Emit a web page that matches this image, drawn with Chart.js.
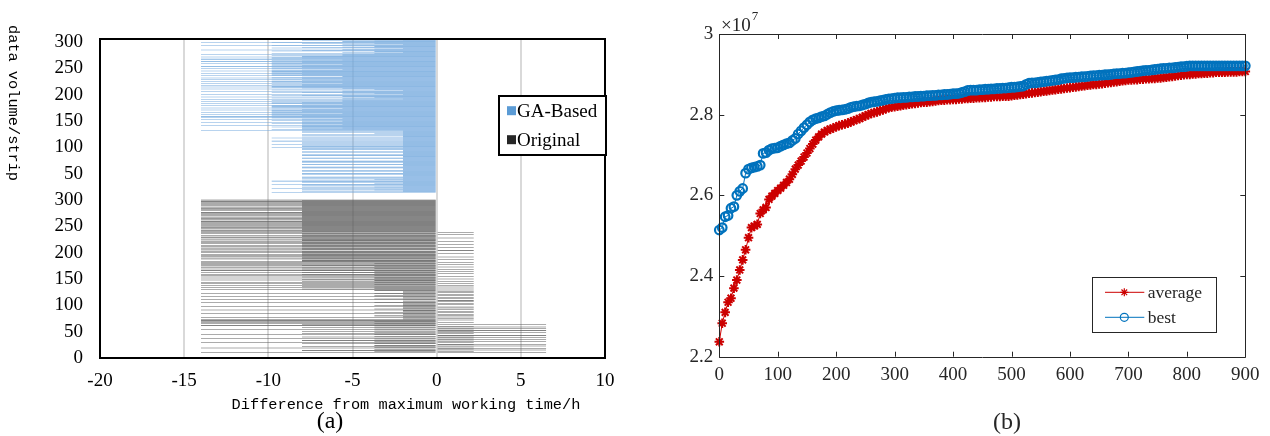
<!DOCTYPE html>
<html>
<head>
<meta charset="utf-8">
<script src="https://cdn.jsdelivr.net/npm/chart.js@4.4.1/dist/chart.umd.min.js"></script>
<style>
  html, body { margin: 0; padding: 0; background: #fff; }
  #wrap { position: relative; width: 1270px; height: 436px; overflow: hidden; }
  #chartA { position: absolute; left: 0; top: 0; }
  #chartB { position: absolute; left: 640px; top: 0; }
</style>
</head>
<body>
<div id="wrap">
  <canvas id="chartA" width="640" height="436"></canvas>
  <canvas id="chartB" width="630" height="436"></canvas>
</div>
<script>
/* =========================
   (a) strip differences, (b) GA convergence
========================= */

/* ── (a) data: one value per strip, bottom strip first ── */
var aXTicks  = [-20, -15, -10, -5, 0, 5, 10];
var aYTicks  = [0, 50, 100, 150, 200, 250, 300, 350, 400, 450, 500, 550, 600];
var aYLabels = ['0', '50', '100', '150', '200', '250', '300', '50', '100', '150', '200', '250', '300'];
var gaFirstStrip   = 315;
var origFirstStrip = 10;

var gaDiff = [
  -9.8,-2,-8,-2,-3.7,-8,-2,-9.8,-2,-8,-3.7,-2,-8,-2,-9.8,-8,-2,-3.7,-8,-2,-8,-9.8,-2,-8,-3.7,-2,-8,-2,
  -8,-8,-2,-2,-2,-2,-8,-8,-8,-2,-2,-2,-8,-8,-2,-2,-2,-2,-8,-8,-8,-2,-2,-2,-8,-8,-2,-2,-2,-8,-8,-8,-2,-2,-2,-2,-8,-8,-2,-2,-2,-8,-8,-8,-2,-2,-2,-2,-8,-8,-2,-2,-2,-8,-8,
  -8,-2,-9.8,-2,-8,-2,-8,-2,-9.8,-2,-8,-2,-8,-2,-9.8,-2,-8,-2,-8,-2,-9.8,-2,-8,-2,-8,-2,-8,-2,-3.7,-2,-8,-2,-8,-2,
  -14,-8,-9.8,-8,-8,-5.6,-8,-9.8,-8,-14,-8,-5.6,-8,-9.8,-8,-14,-8,-8,-5.6,-9.8,-8,-14,-8,-5.6,-9.8,-14,
  -9.8,-14,-9.8,-8,-9.8,-14,-9.8,-5.6,-9.8,-14,-8,-9.8,-9.8,-14,-8,-9.8,-5.6,-14,-9.8,-8,-9.8,-14,-9.8,-5.6,-8,-14,-9.8,-8,-9.8,-14,-5.6,-9.8,
  -5.6,-14,-2,-5.6,-9.8,-3.7,-14,-5.6,-8,-9.8,-2,-14,-5.6,-3.7,-9.8,-8,-14,-5.6,-2,-9.8,-3.7,-14,-5.6,-8,-9.8,
  -14,-9.8,-8,-14,-9.8,-8,-5.6,-14,-9.8,-8,-14,-9.8,-8,-5.6,-14,-9.8,-8,-14,-9.8,-8,-5.6,-14,-9.8,-8,-9.8,
  -9.8,-14,-9.8,-8,-9.8,-14,-9.8,-8,-5.6,-9.8,-14,-9.8,-8,-9.8,-14,-9.8,-8,-5.6,-9.8,-14,-9.8,-8,-9.8,-14,-8,-9.8,-5.6,-14,-14,-9.8,-8,-9.8,-14,-8,-5.6,-9.8,
  -5.6,-14,-3.7,-9.8,-2,-5.6,-3.7,-9.8,-8,-14,-5.6,-3.7,-2,-9.8,-8,-5.6,-3.7,-14,-9.8,-2,-5.6,-8,-3.7,-9.8,-14,-5.6,-3.7,-8,-2,-9.8
];

var origDiff = [
  -14,6.5,-3.7,2.2,-8,6.5,-3.7,2.2,6.5,-14,-3.7,2.2,-8,6.5,-3.7,2.2,6.5,-8,-3.7,-14,
  2.2,6.5,-3.7,-8,2.2,6.5,-3.7,-14,2.2,6.5,-8,-3.7,2.2,6.5,-3.7,-14,-8,2.2,6.5,-3.7,
  2.2,-8,6.5,-3.7,-14,2.2,6.5,-3.7,-8,6.5,2.2,-3.7,-14,6.5,-8,-3.7,
  -14,-14,2.2,-14,-3.7,-14,2.2,-14,-2,
  2.2,-2,-14,2.2,-2,-3.7,2.2,-2,2.2,-14,-2,-3.7,2.2,-2,2.2,-2,-14,2.2,-3.7,-2,
  2.2,-2,2.2,-14,-2,-3.7,2.2,-2,2.2,-2,-14,-3.7,2.2,-2,2.2,-2,-14,-3.7,2.2,-2,
  2.2,-2,-14,-3.7,2.2,-2,2.2,-14,-3.7,-2,2.2,-2,2.2,
  -3.7,2.2,-14,-8,-3.7,2.2,-14,-3.7,-8,2.2,-14,-3.7,-8,2.2,-14,-3.7,-14,-8,2.2,-3.7,
  -14,-8,2.2,-3.7,-14,-3.7,-8,2.2,-14,-3.7,-8,-14,2.2,-3.7,-14,-8,2.2,-3.7,-14,-8,
  2.2,-14,-3.7,-8,-14,2.2,-3.7,-14,-8,2.2,-14,-3.7,-14,
  2.2,-14,-8,-14,-8,-8,2.2,-14,-8,-14,-8,2.2,-14,-8,-14,-8,-14,2.2,-8,-14,
  -8,-14,-8,2.2,-14,-8,-14,-8,-14,2.2,-8,-14,-8,-14,-8,2.2,-14,-8,-14,-8,
  -14,2.2,-8,-14,-8,-14,-8,2.2,-14,-14,-8,-8,-14,2.2,-8,-14,-8,-14,2.2,
  -14,-8,-14,-14,-8,-8,-14,-8,-14,-14,-8,-14,-8,-8,-14,-14,-8,-14,-8,-14,
  -14,-8,-8,-14,-8,-14,-14,-8,-14,-8,-8,-14,-14,-8,-14,-8,-14,-14,-8,-8,
  -14,-8,-14,-8,-14,-14,-8,-14,-8,-8,-14,-14,-8,-14,-8,-14,-8,-14,-14,-8,-14
];

/* ── (b) data: fitness per generation (x1e7) ── */
var gens = [
  0,5,10,15,20,25,30,35,40,45,50,55,60,65,70,75,80,85,90,95,
  100,105,110,115,120,125,130,135,140,145,150,155,160,165,170,175,180,185,190,195,
  200,205,210,215,220,225,230,235,240,245,250,255,260,265,270,275,280,285,290,295,
  300,305,310,315,320,325,330,335,340,345,350,355,360,365,370,375,380,385,390,395,
  400,405,410,415,420,425,430,435,440,445,450,455,460,465,470,475,480,485,490,495,
  500,505,510,515,520,525,530,535,540,545,550,555,560,565,570,575,580,585,590,595,
  600,605,610,615,620,625,630,635,640,645,650,655,660,665,670,675,680,685,690,695,
  700,705,710,715,720,725,730,735,740,745,750,755,760,765,770,775,780,785,790,795,
  800,805,810,815,820,825,830,835,840,845,850,855,860,865,870,875,880,885,890,895,
  900
];
var avgFit = [
  2.237,2.283,2.310,2.335,2.345,2.370,2.390,2.415,2.440,2.465,2.495,2.520,2.524,2.528,2.555,2.564,2.570,2.590,2.598,2.605,
  2.612,2.618,2.625,2.632,2.640,2.652,2.665,2.675,2.685,2.695,2.705,2.716,2.727,2.737,2.745,2.752,2.757,2.761,2.764,2.767,
  2.770,2.773,2.775,2.777,2.779,2.782,2.785,2.788,2.790,2.794,2.797,2.800,2.803,2.805,2.807,2.810,2.812,2.815,2.817,2.819,
  2.820,2.821,2.822,2.824,2.825,2.826,2.827,2.828,2.829,2.830,2.831,2.831,2.832,2.833,2.834,2.835,2.836,2.836,2.837,2.837,
  2.838,2.838,2.839,2.839,2.840,2.840,2.841,2.841,2.842,2.842,2.843,2.843,2.844,2.844,2.845,2.845,2.845,2.846,2.846,2.846,
  2.847,2.848,2.849,2.850,2.851,2.852,2.853,2.854,2.855,2.856,2.857,2.858,2.859,2.860,2.861,2.862,2.863,2.864,2.865,2.866,
  2.867,2.868,2.869,2.870,2.871,2.872,2.873,2.874,2.875,2.875,2.876,2.877,2.878,2.879,2.880,2.881,2.882,2.883,2.884,2.885,
  2.886,2.886,2.887,2.887,2.888,2.888,2.889,2.889,2.890,2.890,2.891,2.891,2.892,2.893,2.894,2.895,2.896,2.897,2.898,2.899,
  2.900,2.900,2.901,2.901,2.902,2.902,2.903,2.903,2.904,2.904,2.905,2.905,2.905,2.905,2.906,2.906,2.906,2.906,2.907,2.907,
  2.907
];
var bestFit = [
  2.514,2.520,2.547,2.550,2.568,2.572,2.600,2.610,2.617,2.655,2.665,2.668,2.670,2.672,2.675,2.704,2.706,2.712,2.716,2.717,
  2.718,2.722,2.725,2.728,2.730,2.736,2.741,2.752,2.760,2.768,2.775,2.782,2.787,2.790,2.792,2.795,2.797,2.801,2.805,2.808,
  2.810,2.811,2.812,2.813,2.815,2.818,2.820,2.821,2.822,2.824,2.826,2.829,2.831,2.832,2.833,2.835,2.836,2.838,2.839,2.840,
  2.841,2.842,2.842,2.843,2.843,2.844,2.844,2.845,2.845,2.846,2.846,2.847,2.847,2.848,2.848,2.849,2.849,2.850,2.850,2.851,
  2.852,2.852,2.853,2.855,2.857,2.860,2.861,2.861,2.861,2.862,2.862,2.863,2.863,2.864,2.864,2.865,2.865,2.866,2.866,2.867,
  2.868,2.868,2.869,2.870,2.871,2.875,2.878,2.879,2.879,2.880,2.881,2.882,2.883,2.884,2.885,2.886,2.887,2.889,2.890,2.891,
  2.892,2.892,2.893,2.893,2.894,2.894,2.895,2.896,2.897,2.897,2.898,2.898,2.899,2.899,2.900,2.901,2.902,2.902,2.903,2.903,
  2.904,2.905,2.906,2.907,2.908,2.909,2.910,2.910,2.911,2.912,2.913,2.914,2.915,2.915,2.916,2.916,2.917,2.918,2.919,2.919,
  2.920,2.921,2.921,2.921,2.921,2.921,2.921,2.921,2.921,2.921,2.921,2.921,2.921,2.921,2.921,2.921,2.921,2.921,2.921,2.921,
  2.921
];
var bXTicks = [0, 100, 200, 300, 400, 500, 600, 700, 800, 900];
var bYTicks = [2.2, 2.4, 2.6, 2.8, 3];

var SERIF = '"Liberation Serif", "Times New Roman", serif';
var MONO  = '"Liberation Mono", "DejaVu Sans Mono", monospace';
var C_GA = '#72A8DD', C_ORIG = '#585858';
var C_GA_KEY = '#5B9BD5', C_ORIG_KEY = '#262626';
var C_AVG = '#CC0000', C_BEST = '#0072BD', C_AX = '#262626';

function stripPoints(diffs, first) {
    return diffs.map(function (v, i) { return { x: v, y: first + i }; });
}
function genPoints(vals) {
    return vals.map(function (v, i) { return { x: gens[i], y: v }; });
}
function fixTicks(list) {
    return function (scale) { scale.ticks = list.map(function (v) { return { value: v }; }); };
}

/* ── (a) frame, titles, legend ── */
var decorA = {
    id: 'decorA',
    afterDraw: function (chart) {
        var ctx = chart.ctx, a = chart.chartArea;
        ctx.save();
        ctx.strokeStyle = '#000';
        ctx.lineWidth = 2;
        ctx.strokeRect(a.left, a.top, a.right - a.left, a.bottom - a.top);

        ctx.fillStyle = '#000';
        ctx.textAlign = 'center';
        ctx.textBaseline = 'middle';
        ctx.font = '15.3px ' + MONO;
        ctx.fillText('Difference from maximum working time/h', 406, 405);
        ctx.save();
        ctx.translate(13, 103);
        ctx.rotate(Math.PI / 2);
        ctx.fillText('data volume/strip', 0, 0);
        ctx.restore();
        ctx.font = '24px ' + SERIF;
        ctx.fillText('(a)', 330, 422);

        // legend box
        ctx.fillStyle = '#fff';
        ctx.fillRect(499, 96, 107, 59);
        ctx.strokeRect(499, 96, 107, 59);
        ctx.font = '19px ' + SERIF;
        ctx.textAlign = 'left';
        var keys = [C_GA_KEY, C_ORIG_KEY];
        chart.data.datasets.forEach(function (ds, i) {
            var cy = 110.7 + i * 29;
            ctx.fillStyle = keys[i];
            ctx.fillRect(507, cy - 4.5, 9, 9);
            ctx.fillStyle = '#000';
            ctx.fillText(ds.label, 517, cy + 1);
        });
        ctx.restore();
    }
};

new Chart(document.getElementById('chartA'), {
    type: 'bar',
    data: {
        datasets: [
            { label: 'GA-Based', data: stripPoints(gaDiff, gaFirstStrip), backgroundColor: C_GA },
            { label: 'Original', data: stripPoints(origDiff, origFirstStrip), backgroundColor: C_ORIG }
        ]
    },
    options: {
        responsive: false,
        animation: false,
        indexAxis: 'y',
        layout: { padding: { left: 0, top: 39, right: 35, bottom: 0 } },
        datasets: { bar: { barPercentage: 1, categoryPercentage: 1, grouped: false, inflateAmount: 0, borderWidth: 0 } },
        plugins: { legend: { display: false }, tooltip: { enabled: false } },
        scales: {
            x: {
                type: 'linear', min: -20, max: 10, z: 1,
                afterBuildTicks: fixTicks(aXTicks),
                afterFit: function (s) { s.height = 78; },
                grid: {
                    drawTicks: false, lineWidth: 2,
                    color: function (c) { return (c.tick && (c.tick.value === -20 || c.tick.value === 10)) ? 'rgba(0,0,0,0)' : 'rgba(0,0,0,0.15)'; }
                },
                border: { display: false },
                ticks: { padding: 12, color: '#000', font: { family: SERIF, size: 19 } }
            },
            y: {
                type: 'linear', min: 0, max: 606, offset: false,
                afterBuildTicks: fixTicks(aYTicks),
                afterFit: function (s) { s.width = 100; },
                grid: { display: false, offset: false, drawTicks: false },
                border: { display: false },
                ticks: {
                    padding: 17, color: '#000', font: { family: SERIF, size: 19 },
                    callback: function (v, i) { return aYLabels[i]; }
                }
            }
        }
    },
    plugins: [decorA]
});

/* ── (b) box, inward ticks, exponent, legend ── */
var decorB = {
    id: 'decorB',
    afterDraw: function (chart) {
        var ctx = chart.ctx, a = chart.chartArea;
        var sx = chart.scales.x, sy = chart.scales.y;
        ctx.save();
        ctx.strokeStyle = C_AX;
        ctx.lineWidth = 1;
        ctx.beginPath();
        ctx.rect(Math.round(a.left) + 0.5, Math.round(a.top) + 0.5, Math.round(a.right - a.left), Math.round(a.bottom - a.top));
        bXTicks.forEach(function (v) {
            var px = Math.round(sx.getPixelForValue(v)) + 0.5;
            ctx.moveTo(px, a.bottom); ctx.lineTo(px, a.bottom - 5);
            ctx.moveTo(px, a.top); ctx.lineTo(px, a.top + 5);
        });
        bYTicks.forEach(function (v) {
            var py = Math.round(sy.getPixelForValue(v)) + 0.5;
            ctx.moveTo(a.left, py); ctx.lineTo(a.left + 5, py);
            ctx.moveTo(a.right, py); ctx.lineTo(a.right - 5, py);
        });
        ctx.stroke();

        // x10^7
        ctx.fillStyle = C_AX;
        ctx.textAlign = 'left';
        ctx.textBaseline = 'alphabetic';
        ctx.font = '19px ' + SERIF;
        ctx.fillText('\u00d710', 81, 31);
        var w = ctx.measureText('\u00d710').width;
        ctx.font = '13px ' + SERIF;
        ctx.fillText('7', 81 + w + 1, 20);

        ctx.textAlign = 'center';
        ctx.textBaseline = 'middle';
        ctx.font = '24px ' + SERIF;
        ctx.fillText('(b)', 367, 423);

        // legend
        ctx.fillStyle = '#fff';
        ctx.fillRect(452.7, 277.3, 124, 55);
        ctx.strokeStyle = C_AX;
        ctx.strokeRect(452.5, 277.5, 124, 55);
        ctx.font = '17.5px ' + SERIF;
        ctx.textAlign = 'left';
        [0, 1].forEach(function (i) {
            var ds = chart.data.datasets[i];
            var cy = 292.3 + i * 25;
            ctx.strokeStyle = ds.borderColor;
            ctx.lineWidth = 1;
            ctx.beginPath();
            ctx.moveTo(465, cy); ctx.lineTo(504.3, cy);
            ctx.stroke();
            ctx.fillStyle = ds.pointBackgroundColor;
            ctx.lineWidth = 1.2;
            Chart.helpers.drawPoint(ctx, {
                pointStyle: ds.pointStyle, radius: 4, borderWidth: 1.2
            }, 484.3, cy);
            ctx.fillStyle = C_AX;
            ctx.fillText(ds.label, 507.7, cy + 1);
        });
        ctx.restore();
    }
};

new Chart(document.getElementById('chartB'), {
    type: 'line',
    data: {
        datasets: [
            {
                label: 'average', data: genPoints(avgFit), order: 1, clip: false,
                borderColor: C_AVG, backgroundColor: C_AVG, borderWidth: 1,
                pointStyle: 'star', pointRadius: 4.8, pointBorderWidth: 2,
                pointBorderColor: C_AVG, pointBackgroundColor: C_AVG
            },
            {
                label: 'best', data: genPoints(bestFit), order: 0, clip: false,
                borderColor: C_BEST, backgroundColor: 'rgba(0,0,0,0)', borderWidth: 1,
                pointStyle: 'circle', pointRadius: 4.3, pointBorderWidth: 2.2,
                pointBorderColor: C_BEST, pointBackgroundColor: 'rgba(0,0,0,0)'
            }
        ]
    },
    options: {
        responsive: false,
        animation: false,
        layout: { padding: { left: 0, top: 34, right: 24.7, bottom: 0 } },
        plugins: { legend: { display: false }, tooltip: { enabled: false } },
        scales: {
            x: {
                type: 'linear', min: 0, max: 900,
                afterBuildTicks: fixTicks(bXTicks),
                afterFit: function (s) { s.height = 79.3; },
                grid: { display: false, drawTicks: false },
                border: { display: false },
                ticks: { padding: 7, color: C_AX, font: { family: SERIF, size: 19 } }
            },
            y: {
                type: 'linear', min: 2.2, max: 3,
                afterBuildTicks: fixTicks(bYTicks),
                afterFit: function (s) { s.width = 79.3; },
                grid: { display: false, drawTicks: false },
                border: { display: false },
                ticks: {
                    padding: 6, color: C_AX, font: { family: SERIF, size: 19 },
                    callback: function (v) { return String(Number(v.toFixed(1))); }
                }
            }
        }
    },
    plugins: [decorB]
});
</script>
</body>
</html>
